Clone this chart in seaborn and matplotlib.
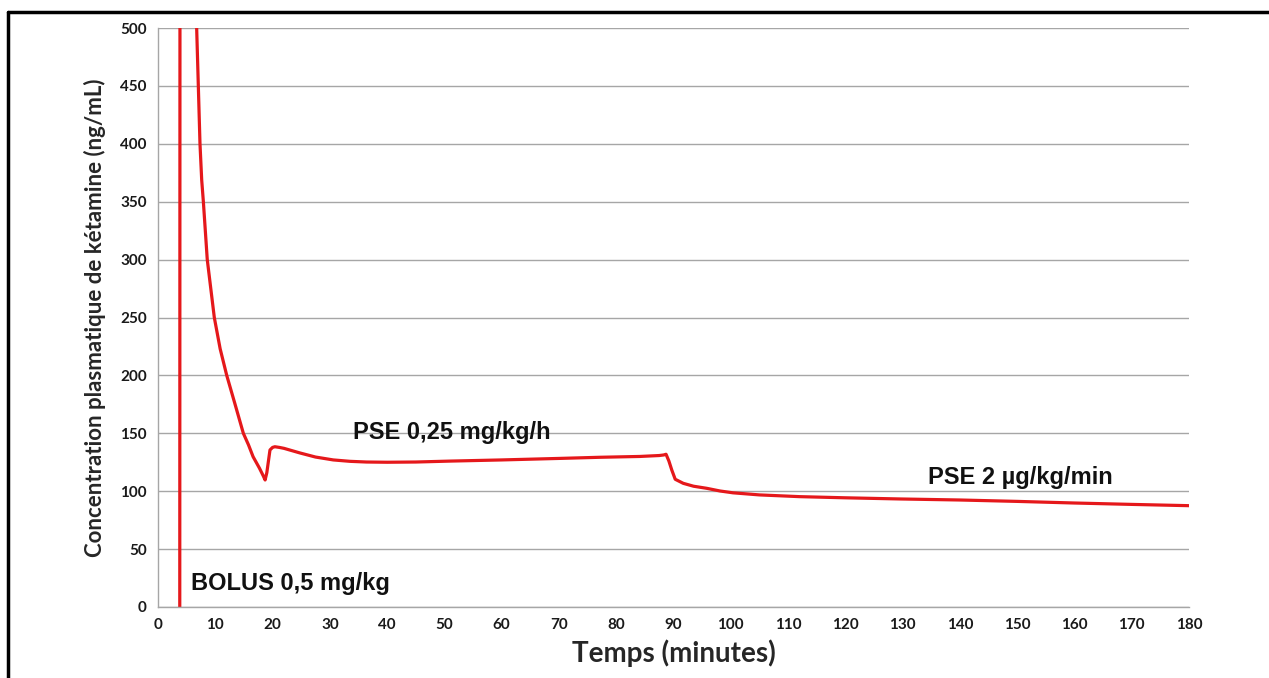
import numpy as np
import pandas as pd
import matplotlib.pyplot as plt
import seaborn as sns
from matplotlib.lines import Line2D

# time (minutes) and plasma ketamine concentration (ng/mL)
temps = [3.8, 3.9, 6.2, 6.75, 7.04, 7.33, 7.63, 7.92, 8.6, 9.83, 10.85, 12.0, 13.4,
         14.9, 15.8, 16.6, 17.7, 18.4, 18.7, 19.0, 19.55, 20.0, 20.4, 21.2,
         22.0, 24.8, 27.5, 30.6, 33.5, 36.4, 40.0, 45.0, 51.0, 60.0, 70.0,
         77.2, 84.1, 87.5, 88.3, 88.7, 89.2, 89.7, 90.3, 91.7, 93.5, 95.8, 98.1,
         100.4, 105.0, 112.0, 120.0, 129.5, 140.0, 150.0, 160.0, 170.0, 180.0]
conc = [0, 1500, 600, 500, 450, 400, 368.7, 350, 300, 250, 223, 200, 176,
        150, 140, 129.8, 120, 113, 109.7, 116, 135.6, 137.8, 138.4, 137.8,
        137, 133, 129.5, 127, 125.8, 125.2, 125, 125.2, 126, 127, 128.3,
        129.3, 130, 130.8, 131.3, 131.9, 126, 118.3, 110.3, 106.8, 104.3, 102.5, 100.2,
        98.6, 96.8, 95.3, 94.3, 93.3, 92.4, 91.2, 89.8, 88.6, 87.5]

df = pd.DataFrame({"temps": temps, "conc": conc})

sns.set_style("white")
plt.rcParams['font.family'] = ['Lato', 'DejaVu Sans']

fig = plt.figure(figsize=(12.69, 6.78), dpi=100)
ax = fig.add_axes([158 / 1269, 1 - 607 / 678, 1031 / 1269, 579 / 678])

sns.lineplot(data=df, x="temps", y="conc", ax=ax, color="#e5181b", linewidth=2.3,
             sort=False, estimator=None)
ax.lines[0].set_solid_joinstyle("round")

ax.set_xlim(0, 180)
ax.set_ylim(0, 500)
ax.set_xticks(np.arange(0, 181, 10))
ax.set_yticks(np.arange(0, 501, 50))
ax.yaxis.grid(True, color="#a6a6a6", linewidth=1.0)
ax.set_axisbelow(True)

for side in ["top", "right"]:
    ax.spines[side].set_visible(False)
for side in ["left", "bottom"]:
    ax.spines[side].set_color("#a6a6a6")
    ax.spines[side].set_linewidth(1.0)

ax.tick_params(axis="both", direction="out", length=5, width=1, color="#a6a6a6",
               labelsize=11, labelcolor="#1a1a1a", pad=3)
for lab in ax.get_xticklabels() + ax.get_yticklabels():
    lab.set_fontweight("bold")

ax.set_xlabel("Temps (minutes)", fontsize=20, fontweight="bold", labelpad=5)
ax.set_ylabel("Concentration plasmatique de kétamine (ng/mL)", fontsize=16,
              fontweight="bold", labelpad=10)

lab_font = dict(fontsize=17, fontweight="bold", color="#111111",
                family=["Liberation Sans", "DejaVu Sans"])
ax.text(5.8, 20, "BOLUS 0,5 mg/kg", ha="left", va="center", **lab_font)
ax.text(34, 151, "PSE 0,25 mg/kg/h", ha="left", va="center", **lab_font)
ax.text(134.5, 112, "PSE 2 µg/kg/min", ha="left", va="center", **lab_font)

# frame around the picture (only left and top edges visible)
fig.add_artist(Line2D([7.5 / 1269, 7.5 / 1269], [0, 1 - 11.5 / 678],
                      transform=fig.transFigure, color="black", linewidth=2.5))
fig.add_artist(Line2D([7.5 / 1269, 1], [1 - 11.5 / 678, 1 - 11.5 / 678],
                      transform=fig.transFigure, color="black", linewidth=2.5))

fig.savefig("out.png", dpi=100)
